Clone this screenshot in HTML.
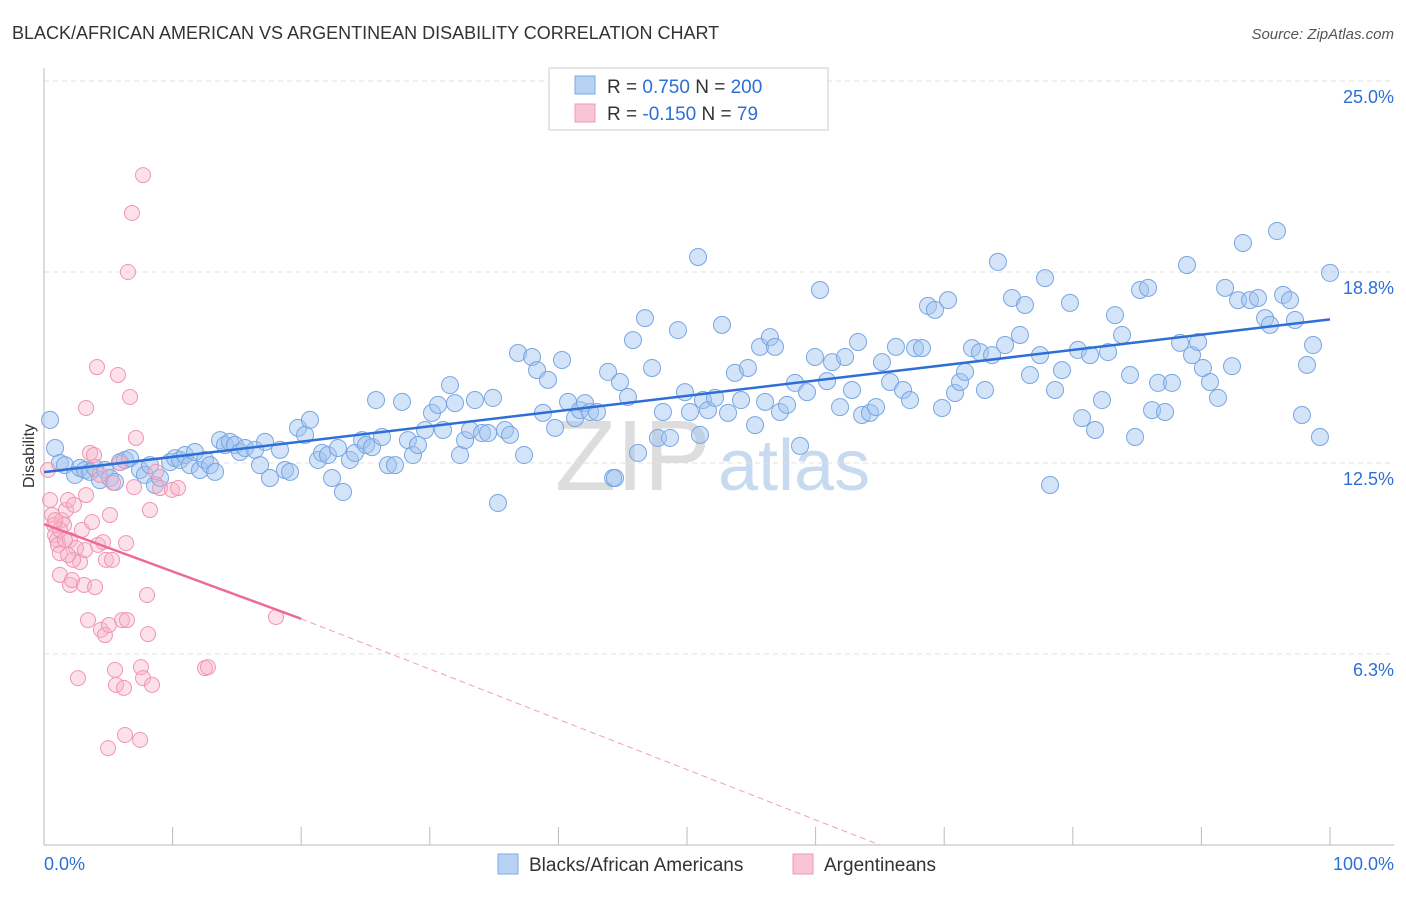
<!DOCTYPE html>
<html><head><meta charset="utf-8"><style>
body{margin:0;background:#fff;font-family:"Liberation Sans",sans-serif}
svg text{font-family:"Liberation Sans",sans-serif}
</style></head><body>
<svg id="chart" width="1406" height="892">
<text x="12" y="39" font-size="18" fill="#333">BLACK/AFRICAN AMERICAN VS ARGENTINEAN DISABILITY CORRELATION CHART</text>
<text x="1394" y="39" font-size="15" fill="#555" font-style="italic" text-anchor="end">Source: ZipAtlas.com</text>
<text transform="translate(34,456) rotate(-90)" font-size="16" fill="#333" text-anchor="middle">Disability</text>
<text x="555" y="490" font-size="100" fill="#ddd" font-family="Liberation Serif">ZIP</text>
<text x="718" y="490" font-size="72" fill="#c8daf0">atlas</text>
<g id="grid"></g><g id="pts"></g><g id="lines"></g>
<g>
<rect x="549" y="68" width="279" height="62" fill="#fff" stroke="#ccc"/>
<rect x="575" y="76" width="20" height="18" fill="#b8d2f4" stroke="#7aa8e0"/>
<rect x="575" y="104" width="20" height="18" fill="#f9c4d4" stroke="#f09ab5"/>
<text x="607" y="93" font-size="19" fill="#333">R = <tspan fill="#2d6fd6"> 0.750</tspan>   N = <tspan fill="#2d6fd6">200</tspan></text>
<text x="607" y="120" font-size="19" fill="#333">R = <tspan fill="#2d6fd6">-0.150</tspan>   N = <tspan fill="#2d6fd6">  79</tspan></text>
</g>
<g>
<rect x="498" y="854" width="20" height="20" fill="#b8d2f4" stroke="#7aa8e0"/>
<text x="529" y="871" font-size="19" fill="#333">Blacks/African Americans</text>
<rect x="793" y="854" width="20" height="20" fill="#f9c4d4" stroke="#f09ab5"/>
<text x="824" y="871" font-size="19" fill="#333">Argentineans</text>
</g>
<text x="44" y="870" font-size="18" fill="#2d6fd6">0.0%</text>
<text x="1394" y="870" font-size="18" fill="#2d6fd6" text-anchor="end">100.0%</text>
</svg>
<script>
const yTicks=[25,18.75,12.5,6.25];
const yTickLabels=["25.0%","18.8%","12.5%","6.3%"];
const xTicks=[0,10,20,30,40,50,60,70,80,90,100];
const blueLine=[[0,12.2],[100,17.2]];
const pinkLine=[[0,10.5],[20,7.4]];
const pinkDash=[[20,7.4],[65,0]];
const bluePx=[[50,420],[55,448],[60,463],[65,465],[75,475],[80,468],[85,470],[90,472],[95,468],[100,480],[105,470],[110,478],[115,482],[120,462],[125,460],[130,458],[140,470],[145,475],[150,465],[155,485],[160,478],[170,462],[175,458],[180,460],[185,455],[190,465],[195,452],[200,470],[205,460],[210,465],[215,472],[220,440],[225,445],[230,442],[235,445],[240,452],[245,448],[255,450],[260,465],[265,442],[270,478],[280,450],[285,470],[290,472],[298,428],[305,435],[310,420],[318,460],[322,453],[328,455],[332,478],[338,448],[343,492],[350,460],[355,453],[362,440],[366,445],[372,447],[376,400],[382,437],[388,465],[395,465],[402,402],[408,440],[413,455],[418,445],[425,430],[432,413],[438,405],[443,430],[450,385],[455,403],[460,455],[465,440],[470,430],[475,400],[482,433],[488,433],[493,398],[498,503],[505,430],[510,435],[518,353],[524,455],[532,357],[537,370],[543,413],[548,380],[555,428],[562,360],[568,402],[575,418],[580,410],[585,403],[590,412],[597,412],[608,372],[613,478],[620,382],[628,397],[633,340],[638,453],[645,318],[652,368],[658,438],[663,412],[670,438],[678,330],[685,392],[690,412],[698,257],[703,400],[708,410],[715,398],[722,325],[728,413],[735,373],[741,400],[748,368],[755,425],[760,347],[765,402],[770,337],[775,347],[780,412],[787,405],[795,383],[800,446],[807,392],[815,357],[820,290],[827,381],[832,362],[840,407],[845,357],[852,390],[858,342],[862,415],[870,413],[876,407],[882,362],[890,382],[896,347],[903,390],[910,400],[915,348],[922,348],[928,306],[935,310],[942,408],[948,300],[955,393],[960,382],[965,372],[972,348],[980,352],[985,390],[992,355],[998,262],[1005,345],[1012,298],[1020,335],[1025,305],[1030,375],[1040,355],[1045,278],[1055,390],[1062,370],[1070,303],[1078,350],[1082,418],[1090,355],[1095,430],[1102,400],[1108,352],[1115,315],[1122,335],[1130,375],[1135,437],[1140,290],[1148,288],[1152,410],[1158,383],[1165,412],[1172,383],[1180,343],[1187,265],[1192,355],[1198,342],[1203,368],[1210,382],[1218,398],[1225,288],[1232,366],[1238,300],[1243,243],[1250,300],[1258,298],[1265,318],[1270,325],[1277,231],[1283,295],[1290,300],[1295,320],[1302,415],[1307,365],[1313,345],[1320,437],[1330,273],[1050,485],[615,478],[700,435]];
const pinkPx=[[48,470],[50,500],[52,515],[54,525],[55,535],[57,540],[58,545],[60,553],[60,575],[62,520],[64,525],[66,510],[68,500],[70,540],[70,585],[72,580],[74,505],[76,548],[78,678],[80,562],[82,530],[84,585],[86,408],[86,495],[88,620],[90,453],[92,522],[94,455],[95,587],[97,367],[98,545],[100,475],[101,630],[103,542],[105,635],[106,560],[108,748],[109,625],[110,515],[112,560],[113,483],[115,670],[116,685],[118,375],[120,463],[122,620],[124,688],[125,735],[126,543],[127,620],[128,272],[130,397],[132,213],[134,487],[136,438],[140,740],[141,667],[143,175],[143,678],[147,595],[148,634],[150,510],[152,685],[156,472],[160,488],[172,490],[178,488],[205,668],[208,667],[276,617],[73,560],[85,550],[60,530],[65,540],[55,520],[68,555]];
const blueX=bluePx.map(p=>+((p[0]-44)/12.86).toFixed(2));
const blueY=bluePx.map(p=>+((845-p[1])/30.56).toFixed(2));
const pinkX=pinkPx.map(p=>+((p[0]-44)/12.86).toFixed(2));
const pinkY=pinkPx.map(p=>+((845-p[1])/30.56).toFixed(2));
const X0=44,X1=1330,Y0=845,Y1=81;
const sx=v=>X0+(X1-X0)*v/100;
const sy=v=>Y0-(Y0-Y1)*v/25;
const NS="http://www.w3.org/2000/svg";
function mk(t,a,p){const e=document.createElementNS(NS,t);for(const k in a)e.setAttribute(k,a[k]);p.appendChild(e);return e;}
const grid=document.getElementById('grid');
yTicks.forEach((t,i)=>{
 const l=mk('line',{x1:X0,x2:1394,y1:sy(t),y2:sy(t),stroke:'#e2e2e2','stroke-dasharray':'5,4'},grid);
 
 
 const tx=mk('text',{x:1394,y:sy(t)+22,'font-size':18,fill:'#2d6fd6','text-anchor':'end'},grid);
 tx.textContent=yTickLabels[i];
 
 
});
const ax=mk('line',{x1:X0,x2:1394,y1:Y0,y2:Y0,stroke:'#bbb'},grid);


const ay=mk('line',{x1:X0,x2:X0,y1:68,y2:Y0,stroke:'#bbb'},grid);


xTicks.forEach(t=>{const l=mk('line',{x1:sx(t),x2:sx(t),y1:Y0-18,y2:Y0,stroke:'#bbb'},grid);
 
 });
const pts=document.getElementById('pts');
blueX.forEach((x,i)=>{const c=mk('circle',{cx:sx(x),cy:sy(blueY[i]),r:8.5,fill:'rgba(160,196,240,0.45)',stroke:'#78a6e2','stroke-width':1},pts);
 
 });
pinkX.forEach((x,i)=>{const c=mk('circle',{cx:sx(x),cy:sy(pinkY[i]),r:7.5,fill:'rgba(248,180,200,0.4)',stroke:'#f095b3','stroke-width':1},pts);
 
 });
const lg=document.getElementById('lines');
const bl=mk('line',{x1:sx(blueLine[0][0]),y1:sy(blueLine[0][1]),x2:sx(blueLine[1][0]),y2:sy(blueLine[1][1]),stroke:'#2d6fd6','stroke-width':2.5},lg);


const pl=mk('line',{x1:sx(pinkLine[0][0]),y1:sy(pinkLine[0][1]),x2:sx(pinkLine[1][0]),y2:sy(pinkLine[1][1]),stroke:'#ec6a94','stroke-width':2.5},lg);


const pd=mk('line',{x1:sx(pinkDash[0][0]),y1:sy(pinkDash[0][1]),x2:sx(pinkDash[1][0]),y2:sy(pinkDash[1][1]),stroke:'#f0a0ba','stroke-width':1,'stroke-dasharray':'6,4'},lg);


</script>
</body></html>
